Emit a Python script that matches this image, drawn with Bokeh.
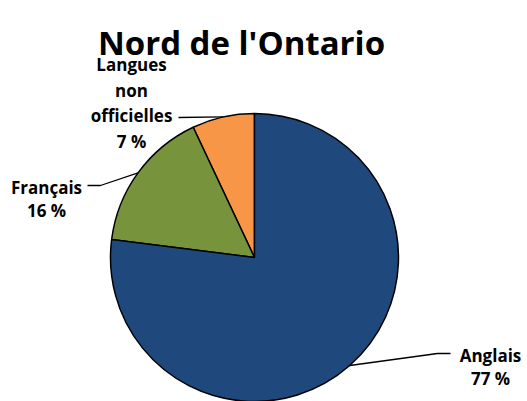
import math
from bokeh.plotting import figure
from bokeh.models import Range1d, ColumnDataSource
from bokeh.core.properties import value
from bokeh.embed import file_html
from bokeh.resources import INLINE

# ---- data ----
title = "Nord de l'Ontario"
categories = ["Langues non officielles", "Français", "Anglais"]
label_lines = [["Langues", "non", "officielles"], ["Français"], ["Anglais"]]
values = [7, 16, 77]
colors = ["#F79646", "#77933C", "#1F497D"]

# ---- layout (picture pixel coordinates) ----
W, H = 527, 401
def Y(py):
    return H - py

cx, cy, R = 254, Y(257), 144
layout = {
    "Langues non officielles": dict(path=[(178, 117)], lx=131, ly=64, step=25.7),
    "Français": dict(path=[(100, 185), (87, 185)], lx=46, ly=187, step=23),
    "Anglais": dict(path=[(437, 353), (450, 353)], lx=490, ly=355, step=23),
}

FONT = value("Open Sans")

p = figure(width=W, height=H, output_backend="svg", toolbar_location=None,
           x_range=Range1d(0, W), y_range=Range1d(0, H),
           x_axis_location=None, y_axis_location=None, min_border=0)
p.grid.visible = False
p.outline_line_color = None
p.background_fill_color = "white"
p.border_fill_color = "white"

total = sum(values)
starts, ends, mids = [], [], []
a = 90.0
for v in values:
    s = a
    e = a + v / total * 360.0
    starts.append(math.radians(s))
    ends.append(math.radians(e))
    mids.append(math.radians((s + e) / 2))
    a = e

src = ColumnDataSource(dict(start=starts, end=ends, color=colors, cat=categories))
p.wedge(x=cx, y=cy, radius=R, start_angle="start", end_angle="end",
        fill_color="color", line_color="black", line_width=1.5, source=src)

for cat, lines, v, m in zip(categories, label_lines, values, mids):
    L = layout[cat]
    ex = cx + R * math.cos(m)
    ey = cy + R * math.sin(m)
    xs = [ex] + [pt[0] for pt in L["path"]]
    ys = [ey] + [Y(pt[1]) for pt in L["path"]]
    p.line(xs, ys, line_color="black", line_width=1.3)
    all_lines = lines + [f"{v} %"]
    tx = [L["lx"]] * len(all_lines)
    ty = [Y(L["ly"] + i * L["step"]) for i in range(len(all_lines))]
    p.text(x=tx, y=ty, text=all_lines, text_font=FONT, text_font_style="bold",
           text_font_size="17px", text_align="center", text_baseline="alphabetic",
           text_color="black")

p.text(x=[241], y=[Y(42)], text=[title], text_font=FONT, text_font_style="bold",
       text_font_size="33px", text_align="center", text_baseline="alphabetic",
       text_color="black")

open("out.html", "w").write(file_html(p, INLINE))
